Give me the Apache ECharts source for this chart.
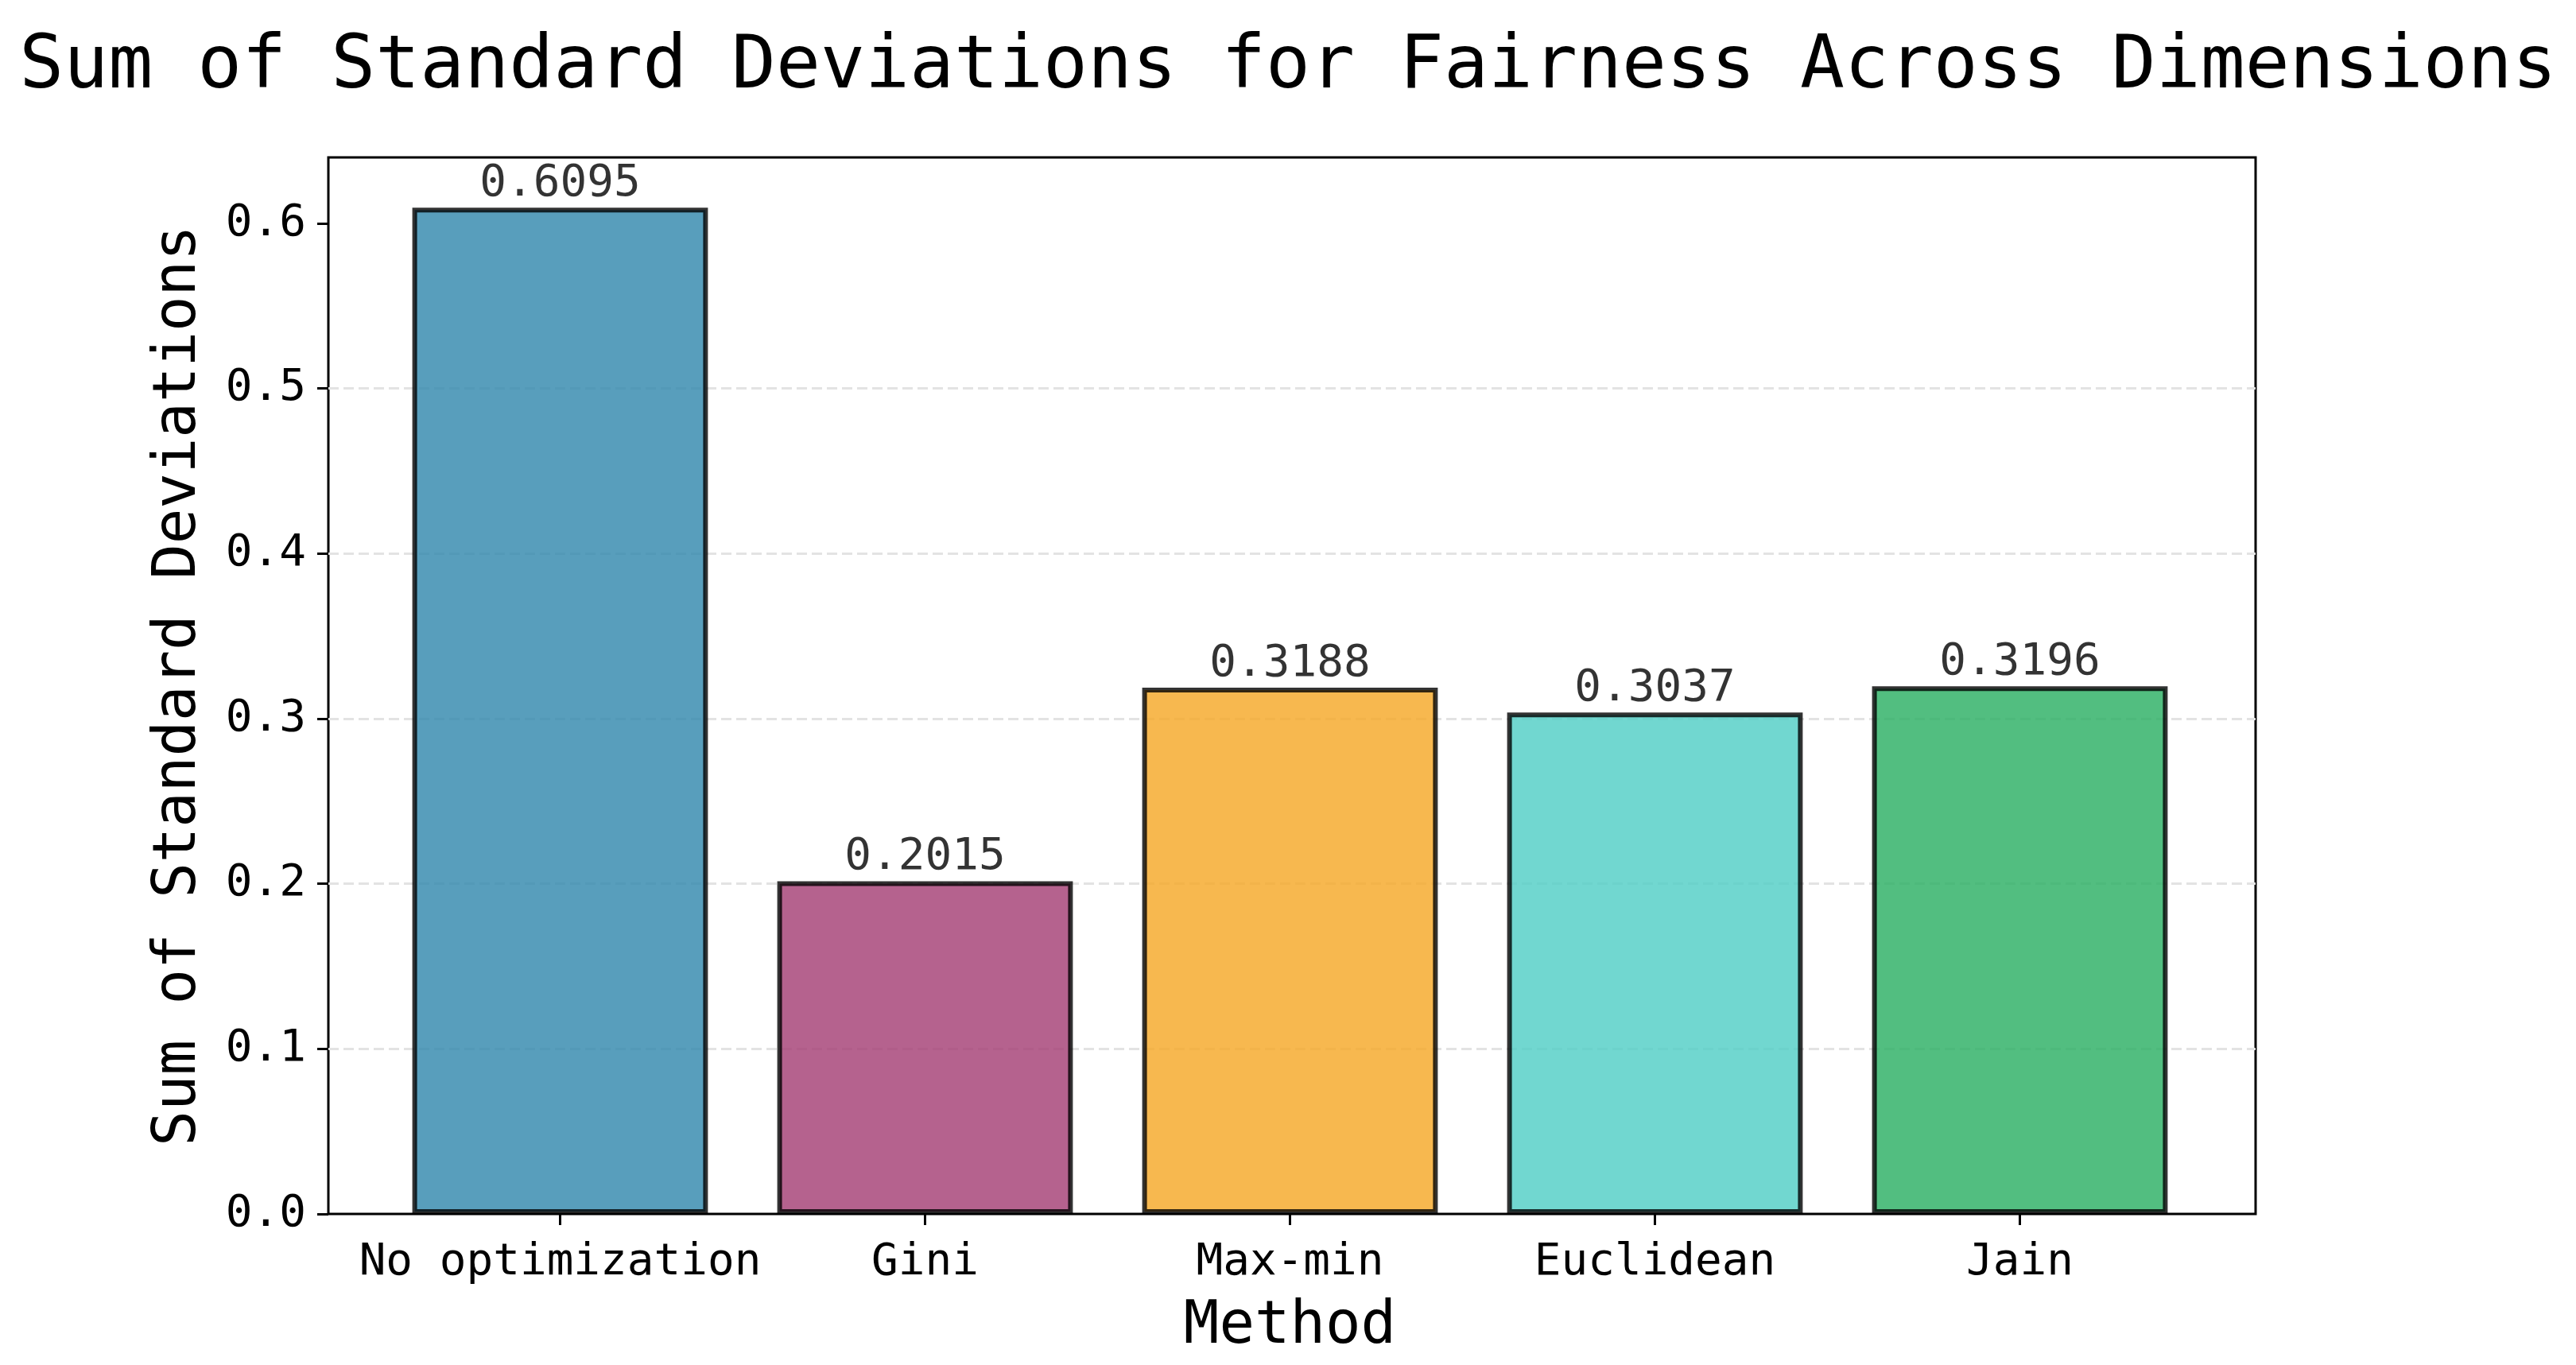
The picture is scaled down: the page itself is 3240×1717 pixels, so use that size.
<!DOCTYPE html>
<html>
<head>
<meta charset="utf-8">
<script src="https://cdn.jsdelivr.net/npm/echarts@6/dist/echarts.min.js"></script>
<style>html,body{margin:0;padding:0;background:#fff}#c{width:3240px;height:1717px}</style>
</head>
<body>
<div id="c"></div>
<script>
const categories = ['No optimization', 'Gini', 'Max-min', 'Euclidean', 'Jain'];
const values = [0.6095, 0.2015, 0.3188, 0.3037, 0.3196];
const barColors = ['#2E86AB', '#A23B72', '#F5A623', '#4ECDC4', '#27AE60'];
const yTicks = [0, 0.1, 0.2, 0.3, 0.4, 0.5, 0.6];
const yMax = 0.64;

const FONT = '"DejaVu Sans Mono", "Liberation Mono", monospace';
const chart = echarts.init(document.getElementById('c'), null, {renderer: 'canvas'});

chart.setOption({
  backgroundColor: '#fff',
  animation: false,
  title: {
    text: 'Sum of Standard Deviations for Fairness Across Dimensions',
    left: 'center', top: 34,
    textStyle: {fontFamily: FONT, fontSize: 93, fontWeight: 'normal', color: '#000'}
  },
  grid: [
    {left: 413, right: 403, top: 198, bottom: 190, show: true, borderColor: '#000', borderWidth: 3, backgroundColor: 'transparent'},
    {left: 475, width: 2295, top: 198, bottom: 190}
  ],
  xAxis: [
    {gridIndex: 0, type: 'value', min: 0, max: 1, show: false},
    {
      gridIndex: 1, type: 'category', data: categories, boundaryGap: true,
      axisLine: {show: false},
      axisTick: {show: true, alignWithLabel: true, interval: 0, length: 14, lineStyle: {color: '#000', width: 3}},
      axisLabel: {interval: 0, margin: 33, fontFamily: FONT, fontSize: 56, color: '#000'},
      name: 'Method', nameLocation: 'middle', nameGap: 106,
      nameTextStyle: {fontFamily: FONT, fontSize: 74, color: '#000'}
    }
  ],
  yAxis: [
    {
      gridIndex: 0, type: 'value', min: 0, max: yMax, interval: 0.1,
      axisLine: {show: false},
      axisTick: {show: true, length: 14, lineStyle: {color: '#000', width: 3}, customValues: yTicks},
      axisLabel: {margin: 28, fontFamily: FONT, fontSize: 56, color: '#000', customValues: yTicks,
        formatter: v => v.toFixed(1)},
      splitLine: {show: true, showMinLine: false, showMaxLine: false, lineStyle: {color: '#e3e3e3', width: 3, type: [13, 6]}},
      name: 'Sum of Standard Deviations', nameLocation: 'middle', nameGap: 150,
      nameTextStyle: {fontFamily: FONT, fontSize: 74, color: '#000'}
    },
    {gridIndex: 1, type: 'value', min: 0, max: yMax, show: false}
  ],
  series: [{
    type: 'bar',
    xAxisIndex: 1, yAxisIndex: 1,
    barCategoryGap: '19%',
    data: values.map((v, i) => ({
      value: v,
      itemStyle: {color: barColors[i], opacity: 0.8, borderColor: '#000', borderWidth: 6}
    })),
    label: {
      show: true, position: 'top', distance: 2,
      fontFamily: FONT, fontSize: 56, color: '#000',
      formatter: p => p.value.toFixed(4)
    }
  }]
});
</script>
</body>
</html>
